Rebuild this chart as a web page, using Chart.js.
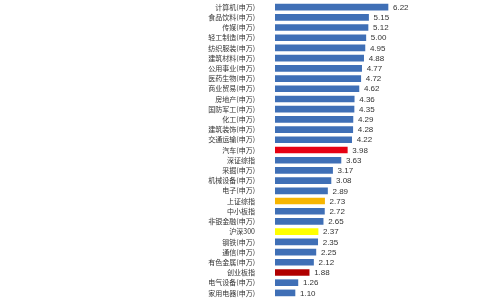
<!DOCTYPE html>
<html lang="zh">
<head>
    <meta charset="UTF-8">
    <title>行业涨幅</title>
    <script src="https://cdn.jsdelivr.net/npm/chart.js@4/dist/chart.umd.min.js"></script>
    <style>
        html, body { margin: 0; padding: 0; background: #ffffff; }
        canvas { display: block; }
    </style>
</head>
<body>
    <canvas id="barChart" width="500" height="300"></canvas>
    <script>
        // 分类与数值
        const categories = [
            '计算机(申万)', '食品饮料(申万)', '传媒(申万)', '轻工制造(申万)', '纺织服装(申万)',
            '建筑材料(申万)', '公用事业(申万)', '医药生物(申万)', '商业贸易(申万)', '房地产(申万)',
            '国防军工(申万)', '化工(申万)', '建筑装饰(申万)', '交通运输(申万)', '汽车(申万)',
            '深证综指', '采掘(申万)', '机械设备(申万)', '电子(申万)', '上证综指',
            '中小板指', '非银金融(申万)', '沪深300', '钢铁(申万)', '通信(申万)',
            '有色金属(申万)', '创业板指', '电气设备(申万)', '家用电器(申万)'
        ];
        const values = [
            6.22, 5.15, 5.12, 5.00, 4.95,
            4.88, 4.77, 4.72, 4.62, 4.36,
            4.35, 4.29, 4.28, 4.22, 3.98,
            3.63, 3.17, 3.08, 2.89, 2.73,
            2.72, 2.65, 2.37, 2.35, 2.25,
            2.12, 1.88, 1.26, 1.10
        ];
        // 高亮项
        const highlight = {
            '汽车(申万)': '#e60012',
            '上证综指': '#f7b500',
            '沪深300': '#ffff00',
            '创业板指': '#b00000'
        };
        const barColors = categories.map(c => highlight[c] || '#3f6fb6');

        // 数值标签
        const valueLabels = {
            id: 'valueLabels',
            afterDatasetsDraw(chart) {
                const ctx = chart.ctx;
                const meta = chart.getDatasetMeta(0);
                ctx.save();
                ctx.font = '8px "Liberation Sans", sans-serif';
                ctx.fillStyle = '#333333';
                ctx.textBaseline = 'middle';
                meta.data.forEach((bar, i) => {
                    ctx.fillText(values[i].toFixed(2), bar.x + 5, bar.y + 0.5);
                });
                ctx.restore();
            }
        };

        new Chart(document.getElementById('barChart'), {
            type: 'bar',
            data: {
                labels: categories,
                datasets: [{
                    data: values,
                    backgroundColor: barColors,
                    barThickness: 6
                }]
            },
            options: {
                indexAxis: 'y',
                responsive: false,
                animation: false,
                layout: { padding: { top: 2, bottom: 2, left: 0, right: 7 } },
                plugins: {
                    legend: { display: false },
                    tooltip: { enabled: false }
                },
                scales: {
                    x: {
                        display: false,
                        min: 0,
                        max: 12
                    },
                    y: {
                        grid: { display: false, drawTicks: false },
                        border: { display: false },
                        ticks: {
                            autoSkip: false,
                            padding: 20,
                            color: '#333333',
                            font: { size: 7, family: '"Noto Sans CJK SC", sans-serif' }
                        },
                        afterFit(scale) {
                            scale.width = 275;
                            scale.paddingTop = 0;
                            scale.paddingBottom = 0;
                        }
                    }
                }
            },
            plugins: [valueLabels]
        });
    </script>
</body>
</html>
